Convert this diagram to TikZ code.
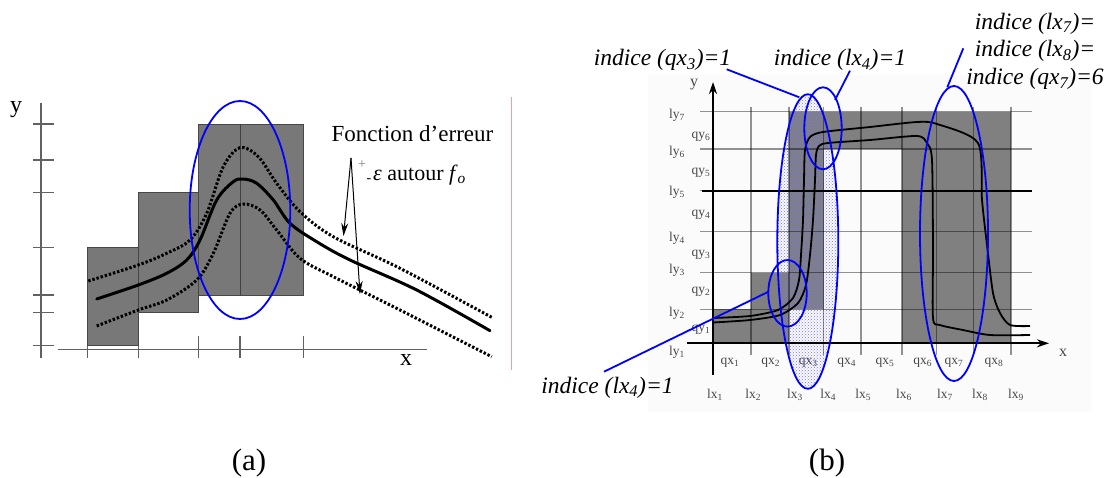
\documentclass[tikz,border=0pt]{standalone}
\usepackage{fontspec}
\setmainfont{Liberation Serif}
\usetikzlibrary{arrows.meta,patterns}
\definecolor{pinkline}{RGB}{240,160,160}
\tikzset{
  abox/.style={fill=black!53, draw=black!72, line width=1pt},
  aaxis/.style={draw=black!62, line width=1.2pt},
  maincurve/.style={line width=3pt, line join=round, line cap=round},
  dotcurve/.style={line width=3pt, dash pattern=on 2.4pt off 1.9pt},
  hilite/.style={draw=blue, line width=1.8pt},
  leader/.style={draw=blue, line width=1.8pt},
  errarrow/.style={line width=1pt, -{Stealth[length=13pt,width=7pt]}},
  bfill/.style={fill=black!50},
  gridl/.style={draw=black, draw opacity=0.42, line width=1.4pt},
  baxis/.style={line width=2pt, -{Stealth[length=12pt,width=8pt]}},
  bcurve/.style={line width=1.8pt, line join=round},
  glab/.style={font=\fontsize{13.5}{14}\selectfont, text=black!72, inner sep=0pt},
  itlab/.style={font=\fontsize{23.5}{27}\selectfont\itshape, inner sep=0pt, anchor=base},
  rmlab/.style={font=\fontsize{23}{27}\selectfont, inner sep=0pt},
}
\begin{document}
\begin{tikzpicture}[x=1pt,y=-1pt]
\useasboundingbox (0,0) rectangle (1112,477);

% ================= panel (a) =================
\draw[abox] (87.7,247.7) rectangle (138.3,345.7);
\draw[abox] (138.3,192.7) rectangle (198.3,312.7);
\draw[abox] (198.3,124) rectangle (303.3,295);
\draw[draw=black!75, line width=1pt] (240,124) -- (240,295);
% axes
\draw[aaxis] (41,103) -- (41,358);
\draw[aaxis] (58,349.3) -- (427,349.3);
\foreach \yy in {124,160,192.7,247.7,295,312.7,345.7}
  \draw[aaxis] (33,\yy) -- (54,\yy);
\foreach \xx in {87.7,138.3}
  \draw[aaxis] (\xx,345.7) -- (\xx,358);
\foreach \xx in {198.3,240,303.3}
  \draw[aaxis] (\xx,336) -- (\xx,358);
% curves
\draw[dotcurve] plot[smooth, tension=0.55] coordinates {(88.3,281) (138.3,265) (166.7,253.3) (190,240) (206.7,213.3) (223.3,166.7) (240,147.7) (258.3,156.7) (276.7,183.3) (300,211.7) (333.3,236.7) (400,268.3) (491.7,317.3)};
\draw[maincurve] plot[smooth, tension=0.55] coordinates {(96.7,299) (138.3,285) (166.7,273.3) (186.7,260) (200,240) (216.7,200) (233.3,181.7) (243.3,179) (256.7,183.3) (273.3,200) (290,223.3) (316.7,241.7) (350,260) (416.7,290) (490,330.7)};
\draw[dotcurve] plot[smooth, tension=0.55] coordinates {(96.7,326) (138.3,310) (166.7,300) (196.7,280) (213.3,253.3) (230,213.3) (243.3,204) (260,210) (276.7,230) (300,258.3) (333.3,276.7) (400,310) (491.7,356.7)};
% highlight
\draw[hilite] (240,210) ellipse [x radius=50.3, y radius=109];
% error arrows
\coordinate (errsrc) at (351,158);
\coordinate (errup) at (343.5,236);
\coordinate (errdn) at (360,294);
\draw[errarrow] (errsrc) -- (errup);
\draw[errarrow] (errsrc) -- (errdn);
% texts (a)
\node[rmlab, anchor=base] (fonc) at (412.5,141) {Fonction d’erreur};
\node[inner sep=0pt, text=black!50, font=\fontsize{14}{14}\selectfont] (plus) at (362,165) {+};
\node[inner sep=0pt, font=\fontsize{14}{14}\selectfont] (minus) at (369,181) {-};
\node[font=\fontsize{22}{26}\selectfont, inner sep=0pt, anchor=base west] (eps) at (373,180) {\textit{ε} autour \textit{f}\textsubscript{\textit{o}}};
\node[font=\fontsize{24}{28}\selectfont, inner sep=0pt] (ya) at (16,110) {y};
\node[font=\fontsize{24}{28}\selectfont, inner sep=0pt] (xa) at (406,360) {x};
\draw[draw=pinkline, line width=1pt] (511,97) -- (511,370);
\node[font=\fontsize{31}{35}\selectfont, inner sep=0pt] (capa) at (249,463) {(a)};

% ================= panel (b) =================
\fill[black!1.5] (648,75) rectangle (1091,412);
% grey cells
\fill[bfill] (713,309.3) rectangle (789,343.3);
\fill[bfill] (751,272.7) rectangle (789,309.3);
\fill[bfill] (789,111.7) rectangle (823.5,309.3);
\fill[bfill] (789,111.7) rectangle (1011,149);
\fill[bfill] (902,149) rectangle (1011,343.3);
% dotted ellipse fill
\fill[pattern=crosshatch dots, pattern color=blue!55] (807.8,241.5) ellipse [x radius=30.5, y radius=147.3];
% grid
\foreach \xx in {751,789,823.5,861,902,936.7,973.3,1011}
  \draw[gridl] (\xx,107) -- (\xx,355);
\foreach \yy in {309.3,272.7,231.7,190.7,149,111.7}
  \draw[gridl] (700,\yy) -- (1032,\yy);
\draw[draw=black, line width=1.6pt] (702,190.7) -- (1032,190.7);
% curves
\draw[bcurve] plot[smooth, tension=0.45] coordinates {(713,318) (750,316) (778,310) (793,298) (799,280) (801,255) (803,220) (804,180) (805,150) (810,137) (823,132) (870,127) (917,122) (937,124) (978,143) (982,200) (987,245) (993,293) (1000,313) (1010,325) (1030,326)};
\draw[bcurve] plot[smooth, tension=0.45] coordinates {(713,322.5) (750,320) (780,315) (798,303) (806,285) (810,255) (813,220) (815,180) (816,155) (819,146) (828,143) (870,140) (917,136) (927,143) (932,160) (933,250) (933,318) (940,325) (963,330) (990,335) (1030,335)};
% axes
\draw[baxis] (687,343.3) -- (1049,343.3);
\draw[baxis] (713,375) -- (713,82);
\node[font=\fontsize{16}{18}\selectfont, text=black!72, inner sep=0pt] (yb) at (694,85) {y};
\node[font=\fontsize{16}{18}\selectfont, text=black!72, inner sep=0pt] (xb) at (1063,353) {x};
% axis labels
\node[glab] (ly7) at (677,115) {ly\textsubscript{7}};
\node[glab] (ly6) at (677,152) {ly\textsubscript{6}};
\node[glab] (ly5) at (677,192) {ly\textsubscript{5}};
\node[glab] (ly4) at (677,238) {ly\textsubscript{4}};
\node[glab] (ly3) at (677,270) {ly\textsubscript{3}};
\node[glab] (ly2) at (677,313) {ly\textsubscript{2}};
\node[glab] (ly1) at (677,352) {ly\textsubscript{1}};
\node[glab] (qy6) at (701,137) {qy\textsubscript{6}};
\node[glab] (qy5) at (701,173) {qy\textsubscript{5}};
\node[glab] (qy4) at (701,215) {qy\textsubscript{4}};
\node[glab] (qy3) at (701,255) {qy\textsubscript{3}};
\node[glab] (qy2) at (701,292) {qy\textsubscript{2}};
\node[glab] (qy1) at (701,330) {qy\textsubscript{1}};
\node[glab] (qx1) at (730,363) {qx\textsubscript{1}};
\node[glab] (qx2) at (770.7,363) {qx\textsubscript{2}};
\node[glab] (qx3) at (808.3,363) {qx\textsubscript{3}};
\node[glab] (qx4) at (846.7,363) {qx\textsubscript{4}};
\node[glab] (qx5) at (885,363) {qx\textsubscript{5}};
\node[glab] (qx6) at (922.7,363) {qx\textsubscript{6}};
\node[glab] (qx7) at (954,363) {qx\textsubscript{7}};
\node[glab] (qx8) at (994,363) {qx\textsubscript{8}};
\node[glab] (lx1) at (715,395) {lx\textsubscript{1}};
\node[glab] (lx2) at (753.3,395) {lx\textsubscript{2}};
\node[glab] (lx3) at (795,395) {lx\textsubscript{3}};
\node[glab] (lx4) at (828.3,395) {lx\textsubscript{4}};
\node[glab] (lx5) at (863.3,395) {lx\textsubscript{5}};
\node[glab] (lx6) at (904,395) {lx\textsubscript{6}};
\node[glab] (lx7) at (945,395) {lx\textsubscript{7}};
\node[glab] (lx8) at (980,395) {lx\textsubscript{8}};
\node[glab] (lx9) at (1016,395) {lx\textsubscript{9}};
% blue ellipses
\draw[hilite] (807.8,241.5) ellipse [x radius=30.5, y radius=147.3];
\draw[hilite] (823,128.3) ellipse [x radius=18.7, y radius=41];
\draw[hilite] (787.5,293.3) ellipse [x radius=19.2, y radius=33.3];
\draw[hilite] (954,233.5) ellipse [x radius=34, y radius=147.5];
% italic labels
\node[itlab] (iqx3) at (662.5,65.5) {indice (qx\textsubscript{3})=1};
\node[itlab] (ilx4t) at (840,65.5) {indice (lx\textsubscript{4})=1};
\node[itlab] (ir1) at (1035,29) {indice (lx\textsubscript{7})=};
\node[itlab] (ir2) at (1035,56.5) {indice (lx\textsubscript{8})=};
\node[itlab] (ir3) at (1035,84.5) {indice (qx\textsubscript{7})=6};
\node[itlab] (ilx4b) at (607.5,393) {indice (lx\textsubscript{4})=1};
% leaders
\coordinate (l1a) at (726.7,69.3); \coordinate (l1b) at (799.3,97.3);
\coordinate (l2a) at (850,70.7);   \coordinate (l2b) at (835,100);
\coordinate (l3a) at (963.3,48.3); \coordinate (l3b) at (947.3,87.3);
\coordinate (l4a) at (604,371.7);  \coordinate (l4b) at (768.5,291.7);
\draw[leader] (l1a) -- (l1b);
\draw[leader] (l2a) -- (l2b);
\draw[leader] (l3a) -- (l3b);
\draw[leader] (l4a) -- (l4b);
\node[font=\fontsize{31}{35}\selectfont, inner sep=0pt] (capb) at (827,463) {(b)};
\end{tikzpicture}
\end{document}
